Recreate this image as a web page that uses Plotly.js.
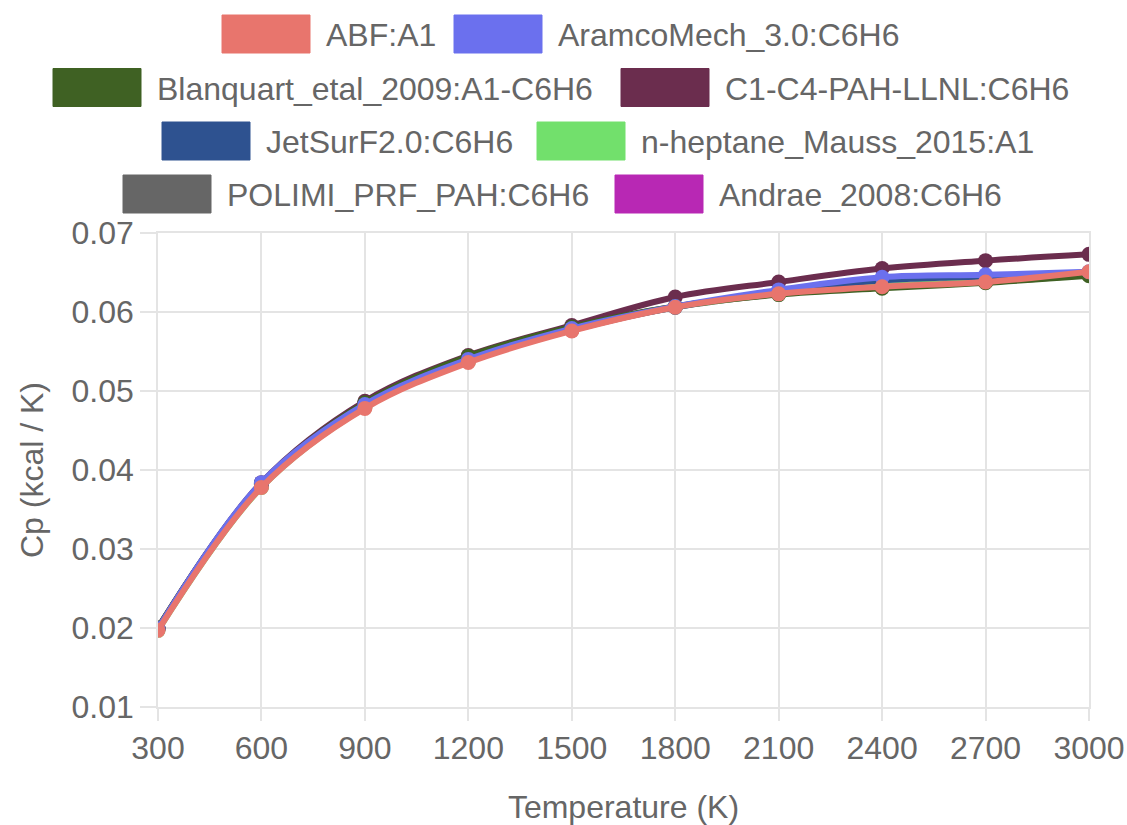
<!DOCTYPE html>
<html>
<head>
<meta charset="utf-8">
<script src="https://cdn.plot.ly/plotly-3.0.1.min.js"></script>
<style>
  html, body { margin: 0; padding: 0; background: #fff; }
  #chart { width: 1127px; height: 825px; }
</style>
</head>
<body>
<div id="chart"></div>
<script>
// ---- data ----
const temperatures = [300, 600, 900, 1200, 1500, 1800, 2100, 2400, 2700, 3000];
const seriesNames = [
  "ABF:A1", "AramcoMech_3.0:C6H6",
  "Blanquart_etal_2009:A1-C6H6", "C1-C4-PAH-LLNL:C6H6",
  "JetSurF2.0:C6H6", "n-heptane_Mauss_2015:A1",
  "POLIMI_PRF_PAH:C6H6", "Andrae_2008:C6H6"
];
const cpABF       = [0.0197, 0.0378, 0.0478, 0.0536, 0.0576, 0.0606, 0.0623, 0.0632, 0.0638, 0.0651];
const cpAramco    = [0.0199, 0.0384, 0.0483, 0.0540, 0.0579, 0.0607, 0.0628, 0.0644, 0.0647, 0.0651];
const cpBlanquart = [0.0200, 0.0383, 0.0485, 0.0544, 0.0581, 0.0607, 0.0622, 0.0630, 0.0637, 0.0646];
const cpC1C4      = [0.0200, 0.0384, 0.0487, 0.0545, 0.0583, 0.0619, 0.0638, 0.0655, 0.0665, 0.0673];
const cpJetSurF   = [0.0199, 0.0383, 0.0483, 0.0541, 0.0579, 0.0606, 0.0626, 0.0640, 0.0645, 0.0650];
const cpHeptane   = [0.0197, 0.0378, 0.0479, 0.0537, 0.0577, 0.0606, 0.0623, 0.0633, 0.0639, 0.0650];
const cpPOLIMI    = [0.0199, 0.0382, 0.0484, 0.0542, 0.0580, 0.0607, 0.0623, 0.0632, 0.0638, 0.0647];
const cpAndrae    = [0.0198, 0.0379, 0.0480, 0.0538, 0.0577, 0.0606, 0.0623, 0.0633, 0.0639, 0.0650];
const xTickLabels = ["300", "600", "900", "1200", "1500", "1800", "2100", "2400", "2700", "3000"];
const yTickValues = [0.01, 0.02, 0.03, 0.04, 0.05, 0.06, 0.07];

// ---- styles ----
const seriesValues = [cpABF, cpAramco, cpBlanquart, cpC1C4, cpJetSurF, cpHeptane, cpPOLIMI, cpAndrae];
const colors = ["#e8756d", "#6b70ee", "#3f6123", "#6b2d4e", "#2e5290", "#72e06c", "#666666", "#b828b4"];

const W = 1127, H = 825;
const M = { l: 158, r: 38, t: 233, b: 118 };
const PW = W - M.l - M.r, PH = H - M.t - M.b;
const px2x = p => (p - M.l) / PW;
const px2y = p => (H - M.b - p) / PH;

const FONT = "Liberation Sans, Arial, Helvetica, sans-serif";
const TXT = "#666666";
const GRID = "#e4e4e4";

// traces: draw in reverse so the first series ends up on top (as in the reference)
const traces = [];
for (let i = seriesNames.length - 1; i >= 0; i--) {
  traces.push({
    type: "scatter",
    mode: "lines+markers",
    name: seriesNames[i],
    x: temperatures,
    y: seriesValues[i],
    line: { color: colors[i], width: 6, shape: "spline", smoothing: 1 },
    marker: { color: colors[i], size: 15 },
    showlegend: false,
    hoverinfo: "x+y+name"
  });
}

// custom legend (Chart.js-style boxes): 4 rows of 2 items
const legendRows = [[0, 1], [2, 3], [4, 5], [6, 7]];
const rowCenters = [34, 87.5, 141, 194];
const rowBoxLeft = [[222, 454], [53, 621], [162, 537], [123, 615]];
const boxW = 88, boxH = 38, textGap = 14;

const shapes = [], annotations = [];
legendRows.forEach((row, r) => {
  const cy = rowCenters[r];
  row.forEach((i, k) => {
    const x = rowBoxLeft[r][k];
    shapes.push({
      type: "rect", xref: "paper", yref: "paper", layer: "above",
      x0: px2x(x), x1: px2x(x + boxW),
      y0: px2y(cy + boxH / 2), y1: px2y(cy - boxH / 2),
      fillcolor: colors[i], line: { color: colors[i], width: 1 }
    });
    annotations.push({
      xref: "paper", yref: "paper", showarrow: false,
      x: px2x(x + boxW + textGap), y: px2y(cy + 1),
      xanchor: "left", yanchor: "middle",
      text: seriesNames[i],
      font: { family: FONT, size: 32, color: TXT }
    });
  });
});

const layout = {
  width: W, height: H,
  margin: M,
  paper_bgcolor: "#ffffff",
  plot_bgcolor: "#ffffff",
  showlegend: false,
  font: { family: FONT, size: 32, color: TXT },
  xaxis: {
    range: [300, 3000],
    tickmode: "array",
    tickvals: temperatures,
    ticktext: xTickLabels,
    showgrid: true, gridcolor: GRID, gridwidth: 1.5,
    zeroline: false,
    showline: true, linecolor: GRID, linewidth: 1.5, mirror: true,
    ticks: "outside", ticklen: 12, tickcolor: GRID, tickwidth: 1.5,
    tickfont: { family: FONT, size: 32, color: TXT },
    title: { text: "Temperature (K)", font: { family: FONT, size: 32, color: TXT }, standoff: 30 }
  },
  yaxis: {
    range: [0.01, 0.07],
    tickmode: "array",
    tickvals: yTickValues,
    ticktext: yTickValues.map(v => v.toFixed(2)),
    showgrid: true, gridcolor: GRID, gridwidth: 1.5,
    zeroline: false,
    showline: true, linecolor: GRID, linewidth: 1.5, mirror: true,
    ticks: "outside", ticklen: 16, tickcolor: GRID, tickwidth: 1.5,
    tickfont: { family: FONT, size: 32, color: TXT },
    title: { text: "Cp (kcal / K)", font: { family: FONT, size: 32, color: TXT }, standoff: 18 }
  },
  shapes: shapes,
  annotations: annotations
};

Plotly.newPlot("chart", traces, layout, { displayModeBar: false });
</script>
</body>
</html>
